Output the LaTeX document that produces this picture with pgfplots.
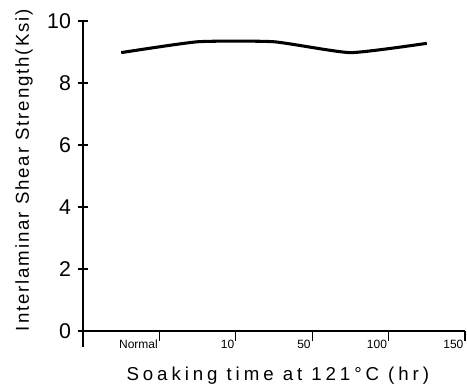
\documentclass[border=0pt]{standalone}
\usepackage{fontspec}
\setmainfont{Liberation Sans}
\usepackage{pgfplots}
\pgfplotsset{compat=1.18}
\begin{document}
\begin{tikzpicture}
\begin{axis}[
  scale only axis, width=286.5pt, height=232.5pt,
  xmin=0, xmax=5, ymin=0, ymax=10,
  axis x line=bottom, axis y line=left,
  axis line style={-, line width=0.9pt},
  y axis line style={shorten <=-12pt},
  xtick={1,2,3,4,5}, xticklabels={Normal,10,50,100,150},
  ytick={0,2,4,6,8,10},
  tick align=outside,
  major tick length=7.5pt,
  tick style={black, line width=0.8pt},
  y tick style={xshift=3.75pt},
  x tick label style={font=\fontsize{9}{10}\selectfont, anchor=north east, inner sep=1pt, yshift=2pt},
  y tick label style={font=\fontsize{16}{18}\selectfont, xshift=2pt},
  /pgf/number format/assume math mode=true,
  xlabel={Soaking time at 121°C (hr)},
  ylabel={Interlaminar Shear Strength(Ksi)},
  xlabel style={font=\fontsize{14}{16}\selectfont\addfontfeature{LetterSpace=21}, at={(axis description cs:0.51,-0.145)}, anchor=center},
  ylabel style={font=\fontsize{14}{16}\selectfont\addfontfeature{LetterSpace=10}, at={(axis description cs:-0.154,0.519)}, anchor=center},
]
\addplot[black, line width=2.3pt, smooth, tension=0.3] coordinates {
  (0.5,8.98) (1.5,9.33) (2.5,9.33) (3.5,8.98) (4.5,9.28)
};
\end{axis}
\pgfresetboundingbox
\path[use as bounding box] (-62.25pt,-43.5pt) rectangle (288pt,248.25pt);
\end{tikzpicture}
\end{document}
